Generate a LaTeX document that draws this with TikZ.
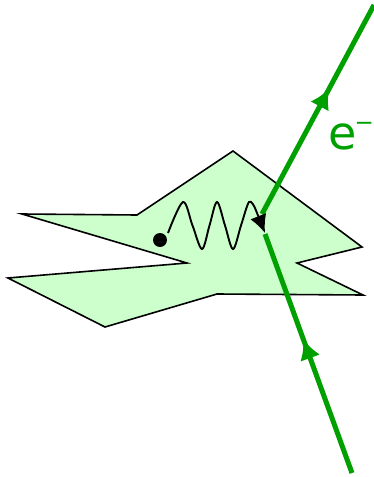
\documentclass[tikz,border=0pt]{standalone}
\usepackage{fontspec}
\newfontfamily\labelfont{DejaVu Sans}
\usetikzlibrary{decorations.markings,arrows.meta}
\definecolor{egreen}{RGB}{0,160,0}
\definecolor{lightg}{RGB}{204,255,204}
\tikzset{
  eline/.style={draw=egreen, line width=5pt},
  midarrow/.style={postaction={decorate},decoration={markings,
     mark=at position #1 with {\arrow[egreen]{Latex[length=20pt,width=21pt]}}}},
  wave/.style={draw=black, line width=1.9pt},
}
\begin{document}
\begin{tikzpicture}[x=1pt,y=-1pt]
\useasboundingbox (0,0) rectangle (374,477);
\filldraw[fill=lightg, draw=black, line width=1.6pt, line join=miter]
  (233,151) -- (362,247) -- (297,263) -- (363,295) -- (217,294) -- (105,327)
  -- (8,278) -- (187,263) -- (22,214) -- (137,215) -- cycle;
\coordinate (top) at (374,5);
\coordinate (kinkup) at (262,214);
\coordinate (kinklo) at (265,234);
\coordinate (bot) at (352,473);
\draw[eline, midarrow=0.56] (bot) -- (kinklo);
\draw[eline, midarrow=0.6] (kinkup) -- (top);
\node[fill=black, circle, inner sep=0pt, minimum size=14pt] (dot) at (160,240) {};
\coordinate (wtip) at (265,233);
\draw[wave, -{Latex[length=18pt,width=17pt]}] plot[smooth, tension=0.55] coordinates {
  (168,233) (183,202) (192.5,225.5) (202,249) (209.5,225.5) (217,202) (225,225.5)
  (233,249) (241,225.5) (249,202) (255,208)} -- (wtip);
\node[text=egreen, font=\labelfont\fontsize{46}{46}\selectfont, anchor=base west, inner sep=0pt] (elabel) at (328,149) {e\kern-2pt\raisebox{19pt}{\fontsize{23}{23}\selectfont −}};
\end{tikzpicture}
\end{document}
